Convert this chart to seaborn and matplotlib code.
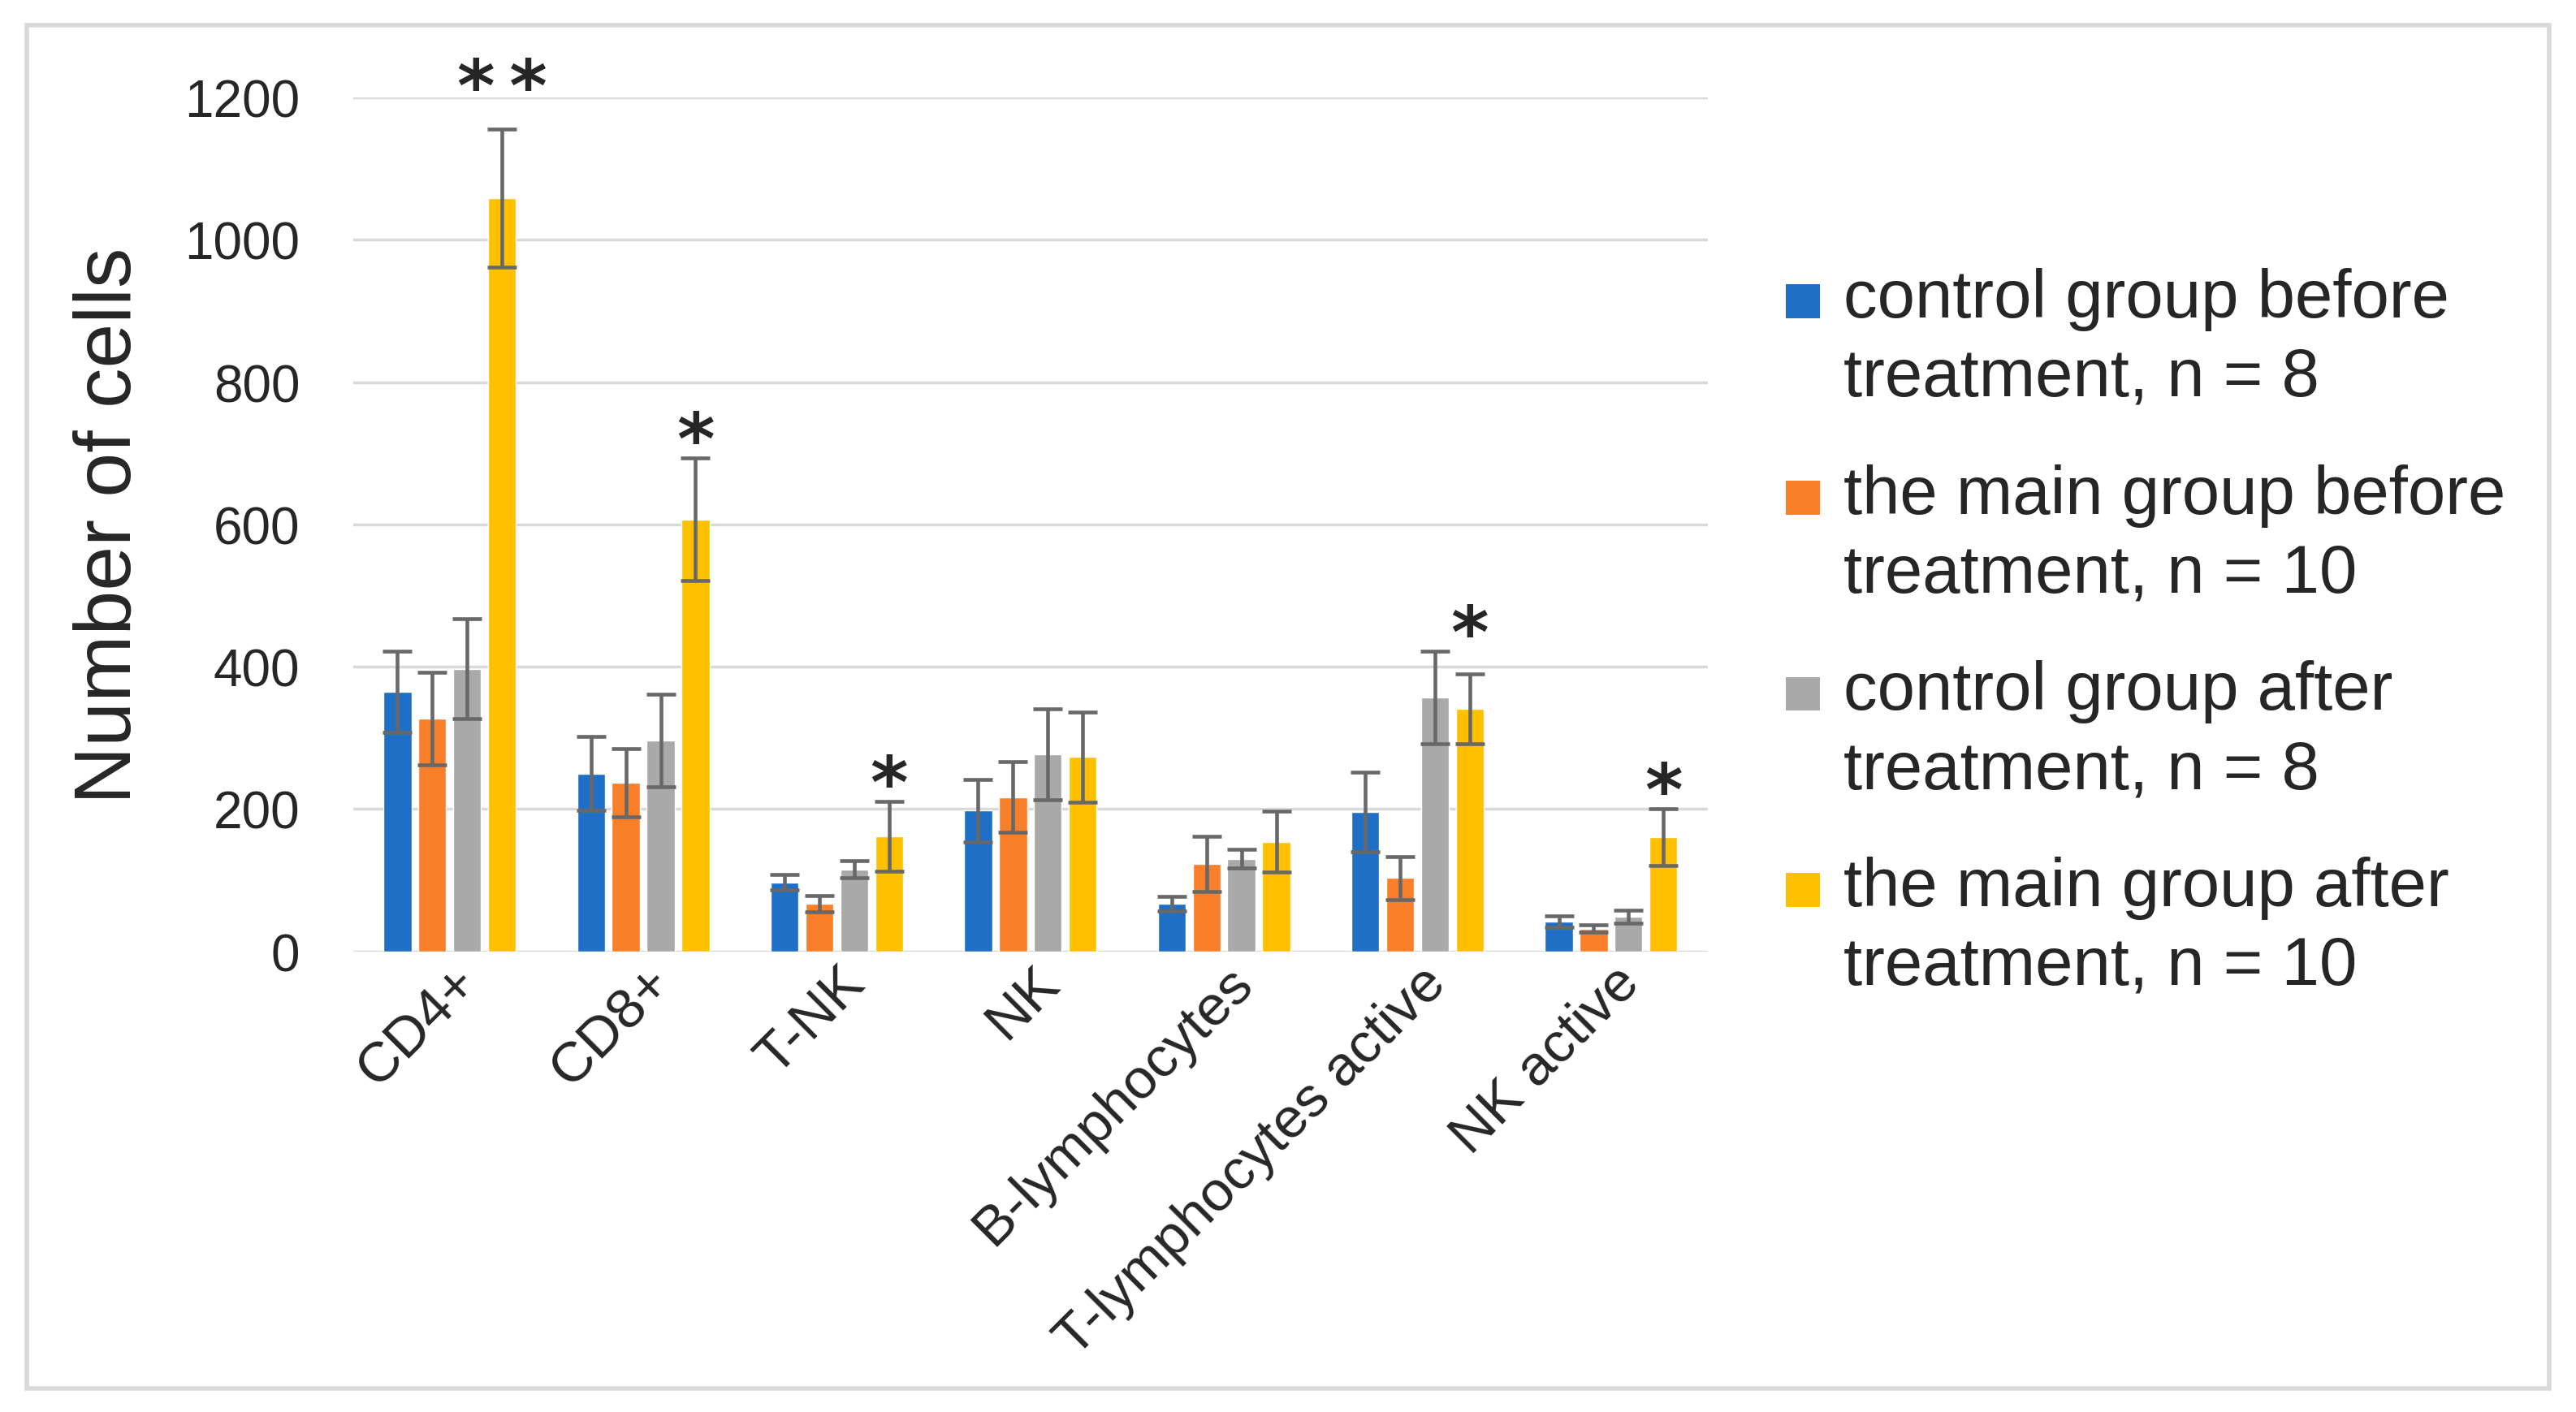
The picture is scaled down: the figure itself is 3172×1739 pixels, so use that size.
import pandas as pd
import matplotlib
matplotlib.use('Agg')
import matplotlib.pyplot as plt
import seaborn as sns
from matplotlib.patches import Rectangle
from matplotlib.legend_handler import HandlerPatch
import matplotlib.transforms as mtransforms

# values
categories = ['CD4+', 'CD8+', 'T-NK', 'NK', 'B-lymphocytes', 'T-lymphocytes active', 'NK active']
groups = ['control group before\ntreatment, n = 8',
          'the main group before\ntreatment, n = 10',
          'control group after\ntreatment, n = 8',
          'the main group after\ntreatment, n = 10']

control_before = [365, 250, 97, 198, 67, 196, 42]
control_before_err = [57, 52, 11, 44, 10, 56, 8]
main_before = [327, 237, 67, 217, 123, 103, 32]
main_before_err = [65, 48, 11, 50, 39, 30, 5]
control_after = [397, 296, 115, 277, 130, 357, 49]
control_after_err = [70, 65, 12, 64, 13, 65, 9]
main_after = [1058, 607, 162, 273, 154, 341, 161]
main_after_err = [97, 86, 49, 63, 43, 49, 40]
significance = ['*\u2009*', '*', '*', '', '', '*', '*']

colors = ['#1F6FC6', '#F97F2A', '#A9A9A9', '#FFC000']

means = [control_before, main_before, control_after, main_after]
errors = [control_before_err, main_before_err, control_after_err, main_after_err]

sns.set_style('white')
plt.rcParams['font.family'] = ['Liberation Sans', 'DejaVu Sans']

rows = []
for g, vals in zip(groups, means):
    for c, v in zip(categories, vals):
        rows.append({'category': c, 'group': g, 'value': v})
df = pd.DataFrame(rows)

fig = plt.figure(figsize=(31.72, 17.40), dpi=100)
ax = fig.add_axes([0.137, 0.326, 0.526, 0.6045])

sns.barplot(data=df, x='category', y='value', hue='group', order=categories,
            hue_order=groups, palette=colors, saturation=1, width=0.72, gap=0.2,
            errorbar=None, legend=False, ax=ax)

# error bars on top of the seaborn bars
for cont, errs in zip(ax.containers, errors):
    xs = [p.get_x() + p.get_width() / 2 for p in cont]
    ys = [p.get_height() for p in cont]
    ax.errorbar(xs, ys, yerr=errs, fmt='none', ecolor='#686868', elinewidth=3.3,
                capsize=13, capthick=3.3, zorder=3)

# significance stars above the "main group after" bars
for i, s in enumerate(significance):
    if not s:
        continue
    p = ax.containers[3][i]
    top = max(m[i] + e[i] for m, e in zip(means, errors))
    lift = -5 + (22 if len(s) > 1 else 0)
    ax.annotate(s, (p.get_x() + p.get_width() / 2, top), xytext=(0, lift),
                textcoords='offset points', ha='center', va='baseline',
                fontsize=64, fontweight='bold', family='DejaVu Sans',
                annotation_clip=False)

ax.set_xlim(-0.5, len(categories) - 0.5)
ax.set_ylim(0, 1200)
ax.set_yticks(range(0, 1201, 200))
ax.yaxis.grid(True, color='#d9d9d9', lw=2.5)
ax.set_axisbelow(True)
sns.despine(ax=ax, left=True, bottom=True)
ax.tick_params(axis='y', labelsize=46, length=0, pad=47)
ax.tick_params(axis='x', labelsize=50, length=0, pad=4)
ax.set_xlabel('')
ax.set_ylabel('Number of cells', fontsize=71)
ax.yaxis.set_label_coords(-0.152, 0.5)

shift = mtransforms.ScaledTranslation(0.02, 0, fig.dpi_scale_trans)
for lab in ax.get_xticklabels():
    lab.set_rotation(45)
    lab.set_ha('right')
    lab.set_va('top')
    lab.set_rotation_mode('anchor')
    lab.set_transform(lab.get_transform() + shift)


class SquareHandler(HandlerPatch):
    def create_artists(self, legend, orig_handle, xdescent, ydescent, width, height, fontsize, trans):
        size = 0.5 * fontsize
        sq = Rectangle((-xdescent, -ydescent + 0.66 * fontsize), size, size,
                       facecolor=orig_handle.get_facecolor(), edgecolor='none', transform=trans)
        return [sq]


handles = [Rectangle((0, 0), 1, 1, facecolor=c) for c in colors]
leg = fig.legend(handles, groups, handler_map={Rectangle: SquareHandler()}, loc='upper left',
                 bbox_to_anchor=(0.6933, 0.8103), frameon=False, fontsize=60,
                 handlelength=0.5, handletextpad=0.35, labelspacing=0.8,
                 borderpad=0, borderaxespad=0)
for t in leg.get_texts():
    t.set_linespacing(1.31)

# light frame around the whole picture
fig.add_artist(Rectangle((33 / 3172, 29 / 1740), (3139 - 33) / 3172, (1711 - 32) / 1740,
                         transform=fig.transFigure, fill=False, edgecolor='#d9d9d9', lw=4))

fig.savefig('out.png', dpi=100)
